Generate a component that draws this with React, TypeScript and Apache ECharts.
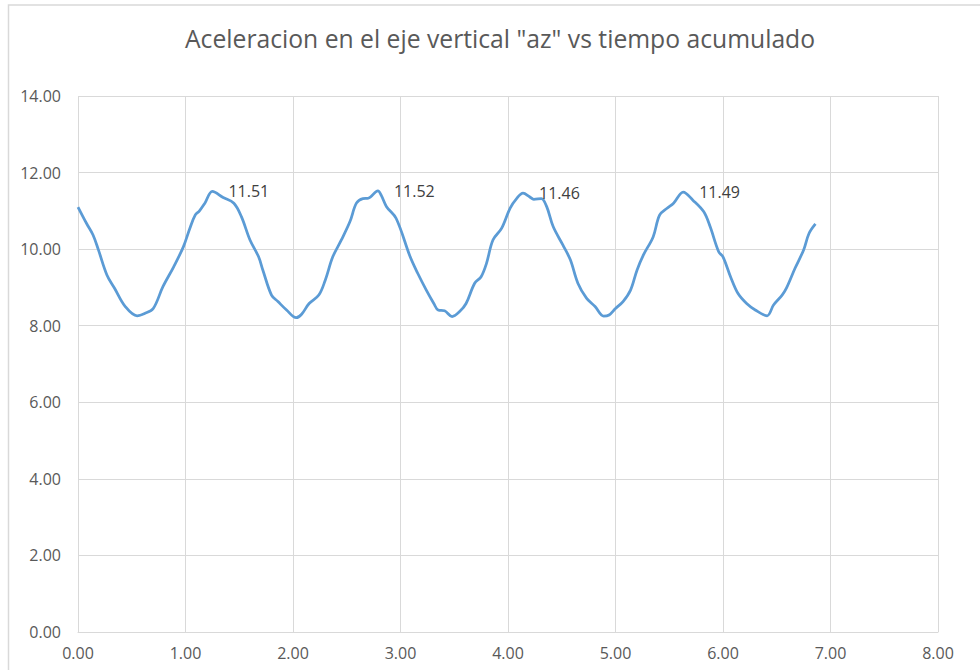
import React, { useEffect, useRef } from "react";
import * as echarts from "echarts";

const titleText = 'Aceleracion en el eje vertical "az" vs tiempo acumulado';

const tiempo = [
  0.0, 0.08, 0.14, 0.19, 0.27, 0.34, 0.44, 0.55, 0.62, 0.7, 0.79, 0.89, 0.98, 1.04, 1.09, 1.13, 1.18, 1.25,
  1.35, 1.45, 1.52, 1.6, 1.68, 1.72, 1.8, 1.86, 1.94, 2.03, 2.08, 2.15, 2.24, 2.3, 2.37, 2.45, 2.53, 2.59,
  2.65, 2.7, 2.79, 2.82, 2.87, 2.96, 3.09, 3.16, 3.24, 3.31, 3.35, 3.41, 3.48, 3.55, 3.61, 3.69, 3.75, 3.8,
  3.86, 3.94, 4.02, 4.08, 4.14, 4.2, 4.24, 4.31, 4.36, 4.42, 4.51, 4.58, 4.65, 4.73, 4.81, 4.89, 4.94, 5.0,
  5.07, 5.14, 5.2, 5.26, 5.35, 5.41, 5.48, 5.54, 5.63, 5.72, 5.82, 5.88, 5.96, 6.0, 6.07, 6.14, 6.22, 6.3,
  6.41, 6.47, 6.55, 6.59, 6.67, 6.75, 6.8, 6.86,
];

const az = [
  11.1, 10.67, 10.37, 9.98, 9.32, 8.98, 8.5, 8.26, 8.32, 8.45, 9.02, 9.54, 10.06, 10.54, 10.89, 11.0, 11.2, 11.51,
  11.35, 11.2, 10.85, 10.24, 9.8, 9.45, 8.8, 8.63, 8.41, 8.21, 8.3, 8.58, 8.8, 9.19, 9.8, 10.24, 10.72, 11.2,
  11.32, 11.33, 11.52, 11.41, 11.11, 10.8, 9.8, 9.37, 8.93, 8.58, 8.41, 8.39, 8.24, 8.37, 8.58, 9.11, 9.28, 9.63,
  10.24, 10.54, 11.07, 11.32, 11.46, 11.37, 11.3, 11.32, 11.11, 10.59, 10.11, 9.72, 9.11, 8.72, 8.5, 8.25, 8.28, 8.45,
  8.63, 8.93, 9.45, 9.85, 10.32, 10.89, 11.07, 11.2, 11.49, 11.28, 10.98, 10.59, 9.93, 9.8, 9.28, 8.84, 8.58, 8.41,
  8.26, 8.54, 8.8, 8.98, 9.5, 9.98, 10.41, 10.66,
];

// indices of points carrying a data label (local maxima)
const labeledPeaks = [17, 38, 58, 80];

const xTicks = { min: 0, max: 8, interval: 1 };
const yTicks = { min: 0, max: 14, interval: 2 };

export default function App() {
  const ref = useRef<HTMLDivElement>(null);

  useEffect(() => {
    if (!ref.current) return;
    const chart = echarts.init(ref.current, null, { renderer: "svg" });
    const font = "'Open Sans', 'Liberation Sans', sans-serif";
    const data = tiempo.map((t, i) => {
      const item: any = { value: [t, az[i]] };
      if (labeledPeaks.includes(i)) {
        item.label = {
          show: true,
          position: "right",
          distance: 16,
          formatter: (p: any) => Number(p.value[1]).toFixed(2),
          color: "#404040",
          fontSize: 16,
          fontFamily: font,
        };
      }
      return item;
    });

    chart.setOption({
      animation: false,
      backgroundColor: "#ffffff",
      title: {
        text: titleText,
        left: 180,
        top: 21,
        textStyle: { color: "#595959", fontSize: 24.7, fontWeight: "normal", fontFamily: font },
      },
      graphic: [
        {
          type: "rect",
          shape: { x: 8.5, y: 5, width: 1000, height: 700 },
          style: { fill: "none", stroke: "#d9d9d9", lineWidth: 1.5 },
          silent: true,
        },
      ],
      grid: { left: 78, right: 42, top: 96, bottom: 38, containLabel: false },
      xAxis: {
        type: "value",
        min: xTicks.min,
        max: xTicks.max,
        interval: xTicks.interval,
        axisLine: { show: true, lineStyle: { color: "#d9d9d9" } },
        axisTick: { show: false },
        splitLine: { show: true, lineStyle: { color: "#d9d9d9", width: 1 } },
        axisLabel: {
          formatter: (v: number) => v.toFixed(2),
          color: "#595959",
          fontSize: 16,
          fontFamily: font,
          margin: 13,
        },
      },
      yAxis: {
        type: "value",
        min: yTicks.min,
        max: yTicks.max,
        interval: yTicks.interval,
        axisLine: { show: false },
        axisTick: { show: false },
        splitLine: { show: true, lineStyle: { color: "#d9d9d9", width: 1 } },
        axisLabel: {
          formatter: (v: number) => v.toFixed(2),
          color: "#595959",
          fontSize: 16,
          fontFamily: font,
          margin: 17,
        },
      },
      series: [
        {
          type: "line",
          data,
          smooth: 0.35,
          symbol: "circle",
          symbolSize: 0,
          showSymbol: true,
          lineStyle: { color: "#5b9bd5", width: 2.75 },
          itemStyle: { color: "#5b9bd5" },
          label: { show: false },
        },
      ],
    });
    return () => chart.dispose();
  }, []);

  return (
    <div
      ref={ref}
      style={{ position: "fixed", left: 0, top: 0, width: 980, height: 670, background: "#fff" }}
    />
  );
}
